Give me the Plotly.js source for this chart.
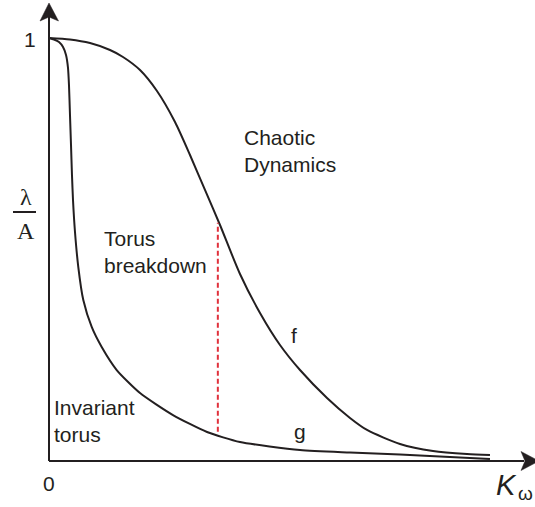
<!DOCTYPE html>
<html>
<head>
<meta charset="utf-8">
<script src="https://cdn.plot.ly/plotly-3.0.1.min.js"></script>
<style>html,body{margin:0;padding:0;background:#fff;}#chart{width:535px;height:507px;}</style>
</head>
<body>
<div id="chart"></div>
<script>
// Data (normalized coupling K_omega, normalized lambda/A)
var fK = [0, 0.0475, 0.0928, 0.1380, 0.1674, 0.2059, 0.2443, 0.2851, 0.3190, 0.3529, 0.3869, 0.4321, 0.4774, 0.5226, 0.5679, 0.6290, 0.6810, 0.7195, 0.7941, 0.8688, 0.9457, 0.9977];
var fY = [1.0, 0.9965, 0.988, 0.9716, 0.9551, 0.9243, 0.8747, 0.8014, 0.7234, 0.6407, 0.5579, 0.4421, 0.3499, 0.2742, 0.2151, 0.1489, 0.1017, 0.0733, 0.0402, 0.0236, 0.0165, 0.0142];
var gK = [0, 0.0113, 0.0226, 0.0317, 0.0385, 0.0430, 0.0452, 0.0475, 0.0498, 0.0520, 0.0543, 0.0588, 0.0663, 0.0776, 0.0966, 0.1192, 0.1532, 0.2059, 0.2805, 0.3575, 0.4321, 0.5679, 0.6810, 0.7941, 0.9072, 0.9977];
var gY = [1.0, 0.9965, 0.9905, 0.9787, 0.9598, 0.9291, 0.8889, 0.8180, 0.7470, 0.6761, 0.6170, 0.5414, 0.4586, 0.3806, 0.3168, 0.2695, 0.2151, 0.1608, 0.1087, 0.0686, 0.0449, 0.0260, 0.0201, 0.0154, 0.0095, 0.0047];
var breakK = [0.382, 0.382];
var breakY = [0.069, 0.563];
var yTickLabels = ["1", "0"];

var W = 535, H = 507;
var X0 = 49, Y0 = 461, XS = 442, YS = 423;
function dx(px) { return (px - X0) / XS; }
function dy(py) { return (Y0 - py) / YS; }
function px(p) { return p / W; }
function py(p) { return 1 - p / H; }

var ink = '#231f20';
var traces = [
  {x: fK, y: fY, mode: 'lines', line: {color: ink, width: 2, shape: 'spline', smoothing: 0.7}, hoverinfo: 'skip'},
  {x: gK, y: gY, mode: 'lines', line: {color: ink, width: 2, shape: 'spline', smoothing: 0.6}, hoverinfo: 'skip'},
  {x: breakK, y: breakY, mode: 'lines', line: {color: '#e0313c', width: 2, dash: '5px,3px'}, hoverinfo: 'skip'}
];

var shapes = [
  {type: 'line', xref: 'x', yref: 'y', x0: 0, y0: 0, x1: 0, y1: dy(16), line: {color: ink, width: 2}},
  {type: 'line', xref: 'x', yref: 'y', x0: 0, y0: 0, x1: dx(524), y1: 0, line: {color: ink, width: 2}},
  {type: 'path', xref: 'x', yref: 'y',
   path: 'M ' + dx(49) + ' ' + dy(3) + ' L ' + dx(40) + ' ' + dy(21) + ' L ' + dx(49) + ' ' + dy(17) + ' L ' + dx(58.5) + ' ' + dy(21) + ' Z',
   fillcolor: ink, line: {color: ink, width: 0.5}},
  {type: 'path', xref: 'x', yref: 'y',
   path: 'M ' + dx(539) + ' ' + dy(461) + ' L ' + dx(521) + ' ' + dy(451.5) + ' L ' + dx(525) + ' ' + dy(461) + ' L ' + dx(521) + ' ' + dy(470.5) + ' Z',
   fillcolor: ink, line: {color: ink, width: 0.5}},
  {type: 'line', xref: 'paper', yref: 'paper', x0: px(13), x1: px(36), y0: py(212), y1: py(212), line: {color: ink, width: 2}}
];

var sans = {family: 'Liberation Sans, Arial, sans-serif', size: 21, color: ink};
var serif = {family: 'Liberation Serif, Times New Roman, serif', size: 24, color: ink};
function ann(text, x, y, xa, font, ya) {
  return {text: text, xref: 'paper', yref: 'paper', x: px(x), y: py(y), xanchor: xa, yanchor: ya || 'middle',
          showarrow: false, font: font || sans, align: 'left'};
}
var annotations = [
  ann(yTickLabels[0], 30, 40, 'center'),
  ann(yTickLabels[1], 49, 483, 'center'),
  ann('Chaotic<br>Dynamics', 242, 151, 'left'),
  ann('Torus<br>breakdown', 102, 252, 'left'),
  ann('Invariant<br>torus', 52, 421, 'left'),
  ann('f', 294, 335, 'center'),
  ann('g', 300, 431, 'center'),
  ann('λ', 25.5, 197, 'center', serif),
  ann('A', 25.5, 231, 'center', serif),
  ann('<i>K</i>', 506, 485, 'center', {family: 'Liberation Sans, Arial, sans-serif', size: 29, color: ink}),
  ann('ω', 525, 506, 'center', {family: 'Liberation Sans, Arial, sans-serif', size: 19, color: ink}, 'bottom')
];

var layout = {
  width: W, height: H,
  margin: {l: 0, r: 0, t: 0, b: 0, pad: 0},
  paper_bgcolor: '#fff', plot_bgcolor: '#fff',
  showlegend: false,
  xaxis: {range: [dx(0), dx(W)], visible: false, fixedrange: true},
  yaxis: {range: [dy(H), dy(0)], visible: false, fixedrange: true},
  shapes: shapes,
  annotations: annotations
};
Plotly.newPlot('chart', traces, layout, {displayModeBar: false, staticPlot: true});
</script>
</body>
</html>
